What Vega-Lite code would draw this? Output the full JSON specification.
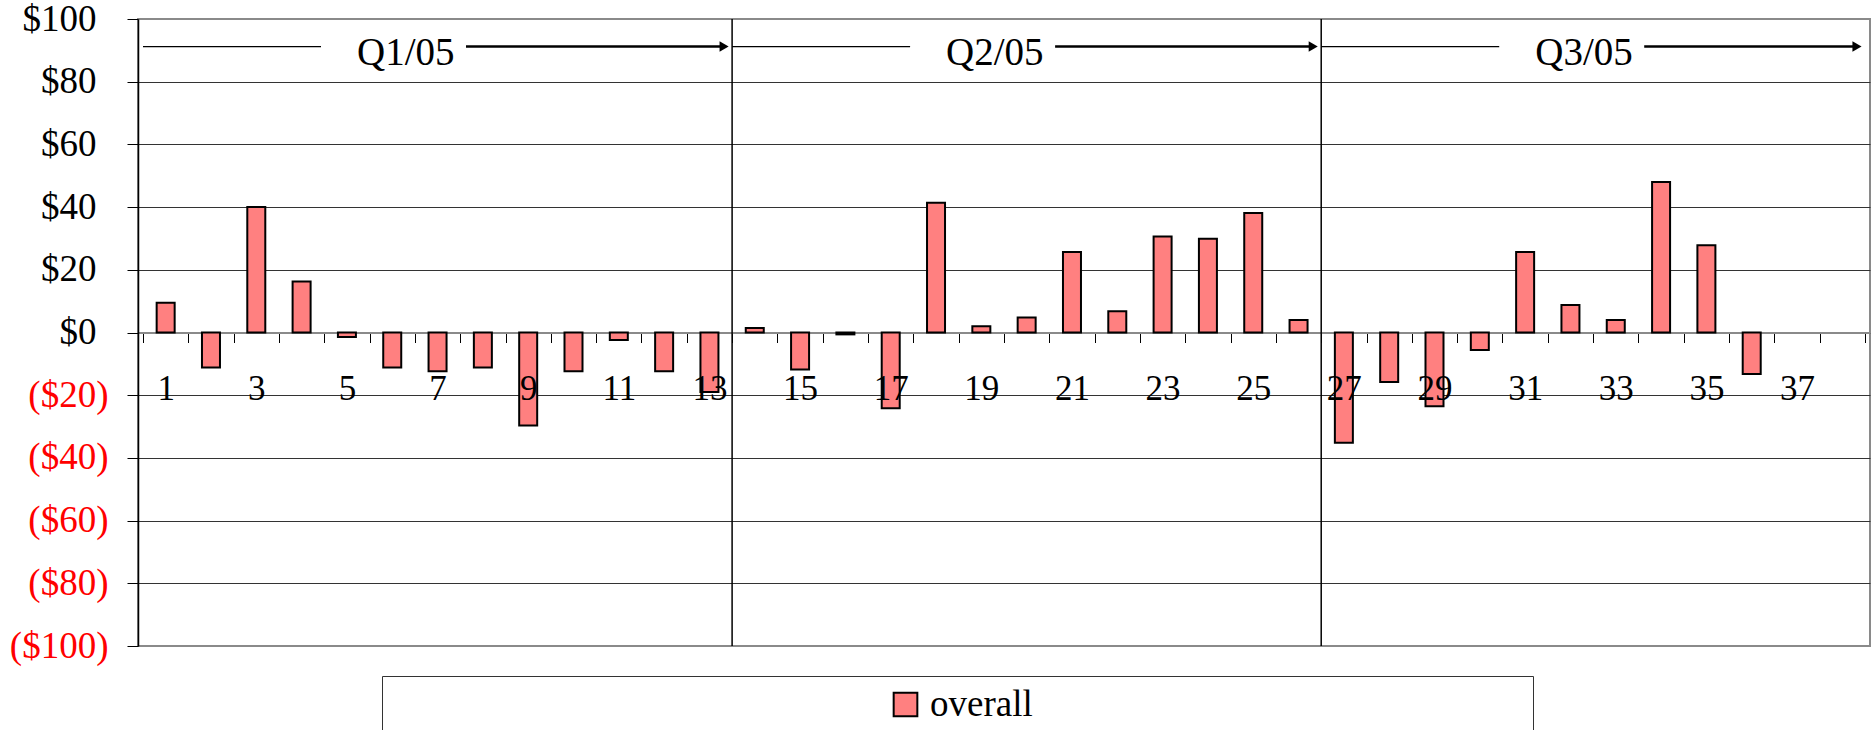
{
  "$schema": "https://vega.github.io/schema/vega-lite/v6.json",
  "width": 1732,
  "height": 627,
  "autosize": {"type": "none"},
  "padding": {"left": 138, "top": 19, "right": 2, "bottom": 84},
  "background": "white",
  "config": {
    "view": {"stroke": "#8a8a8a", "strokeWidth": 2},
    "font": "Liberation Serif",
    "axis": {"labelFont": "Liberation Serif", "labelFontSize": 35, "labelColor": "black"},
    "legend": {"labelFont": "Liberation Serif"}
  },
  "datasets": {
    "weeks": [
      {"week": 1, "value": 9.5},
      {"week": 2, "value": -11.2},
      {"week": 3, "value": 40.0},
      {"week": 4, "value": 16.3},
      {"week": 5, "value": -1.4},
      {"week": 6, "value": -11.2},
      {"week": 7, "value": -12.4},
      {"week": 8, "value": -11.2},
      {"week": 9, "value": -29.7},
      {"week": 10, "value": -12.4},
      {"week": 11, "value": -2.4},
      {"week": 12, "value": -12.4},
      {"week": 13, "value": -19.0},
      {"week": 14, "value": 1.4},
      {"week": 15, "value": -11.8},
      {"week": 16, "value": -0.6},
      {"week": 17, "value": -24.2},
      {"week": 18, "value": 41.4},
      {"week": 19, "value": 2.0},
      {"week": 20, "value": 4.8},
      {"week": 21, "value": 25.7},
      {"week": 22, "value": 6.8},
      {"week": 23, "value": 30.6},
      {"week": 24, "value": 29.9},
      {"week": 25, "value": 38.1},
      {"week": 26, "value": 4.0},
      {"week": 27, "value": -35.2},
      {"week": 28, "value": -15.8},
      {"week": 29, "value": -23.5},
      {"week": 30, "value": -5.6},
      {"week": 31, "value": 25.7},
      {"week": 32, "value": 8.8},
      {"week": 33, "value": 4.0},
      {"week": 34, "value": 48.0},
      {"week": 35, "value": 27.8},
      {"week": 36, "value": -13.2}
    ],
    "quarters": [
      {"quarter": "Q1/05", "start": 0.5, "end": 13.5},
      {"quarter": "Q2/05", "start": 13.5, "end": 26.5},
      {"quarter": "Q3/05", "start": 26.5, "end": 38.5}
    ]
  },
  "layer": [
    {
      "data": {"name": "weeks"},
      "mark": {"type": "bar", "width": 18, "stroke": "black", "strokeWidth": 2},
      "encoding": {
        "x": {
          "field": "week",
          "type": "quantitative",
          "scale": {"domain": [0.5, 38.5], "nice": false, "zero": false},
          "axis": {
            "orient": "bottom",
            "offset": -313.5,
            "values": [0.5, 1.5, 2.5, 3.5, 4.5, 5.5, 6.5, 7.5, 8.5, 9.5, 10.5, 11.5, 12.5, 13.5, 14.5, 15.5, 16.5, 17.5, 18.5, 19.5, 20.5, 21.5, 22.5, 23.5, 24.5, 25.5, 26.5, 27.5, 28.5, 29.5, 30.5, 31.5, 32.5, 33.5, 34.5, 35.5, 36.5, 37.5, 38.5],
            "labels": false,
            "grid": false,
            "title": null,
            "domainColor": "#8a8a8a",
            "domainWidth": 2,
            "tickColor": "black",
            "tickSize": 10,
            "tickWidth": 1
          }
        },
        "y": {
          "field": "value",
          "type": "quantitative",
          "scale": {"domain": [-100, 100], "nice": false},
          "axis": {
            "values": [-100, -80, -60, -40, -20, 0, 20, 40, 60, 80, 100],
            "title": null,
            "labelFontSize": 37,
            "labelExpr": "datum.value < 0 ? '($' + abs(datum.value) + ')' : '$' + datum.value",
            "labelColor": {"condition": {"test": "datum.value < 0", "value": "#FF0000"}, "value": "black"},
            "labelPadding": {"condition": {"test": "datum.value < 0", "value": 19}, "value": 31},
            "tickSize": 11,
            "tickColor": "black",
            "domainColor": "black",
            "domainWidth": 1.5,
            "grid": true,
            "gridColor": {"condition": {"test": "abs(datum.value) == 100", "value": "#8a8a8a"}, "value": "#333333"},
            "gridWidth": 1
          }
        },
        "color": {
          "datum": "overall",
          "scale": {"range": ["#FF8080"]},
          "legend": {
            "orient": "none",
            "legendX": 244,
            "legendY": 657,
            "title": null,
            "strokeColor": "#333333",
            "fillColor": "white",
            "padding": 10,
            "symbolType": "square",
            "symbolSize": 560,
            "symbolStrokeColor": "black",
            "symbolStrokeWidth": 2,
            "symbolOffset": 495,
            "labelFontSize": 37,
            "labelOffset": 6,
            "labelLimit": 0,
            "labelExpr": "pad(datum.label, 60, '\u00a0') + '\u200b'"
          }
        }
      }
    },
    {
      "data": {"name": "quarters"},
      "transform": [{"filter": "datum.end < 38"}],
      "mark": {"type": "rule", "color": "black", "strokeWidth": 1.5},
      "encoding": {
        "x": {
          "field": "end",
          "type": "quantitative",
          "axis": {
            "orient": "bottom",
            "offset": -313.5,
            "values": [1, 3, 5, 7, 9, 11, 13, 15, 17, 19, 21, 23, 25, 27, 29, 31, 33, 35, 37],
            "ticks": false,
            "tickSize": 0,
            "domain": false,
            "grid": false,
            "title": null,
            "labelBaseline": "alphabetic",
            "labelPadding": 67,
            "labelOverlap": false,
            "labelFlush": false,
            "zindex": 1
          }
        }
      }
    },
    {
      "data": {"name": "quarters"},
      "mark": {"type": "rule", "color": "black", "strokeWidth": 1.2, "x2Offset": 178},
      "encoding": {
        "x": {"field": "start", "type": "quantitative", "axis": null},
        "x2": {"field": "start"},
        "y": {"datum": 91.2}
      }
    },
    {
      "data": {"name": "quarters"},
      "mark": {"type": "rule", "color": "black", "strokeWidth": 2.5, "xOffset": 323, "x2Offset": -8},
      "encoding": {
        "x": {"field": "start", "type": "quantitative", "axis": null},
        "x2": {"field": "end"},
        "y": {"datum": 91.2}
      }
    },
    {
      "data": {"name": "quarters"},
      "mark": {"type": "point", "shape": "triangle-right", "filled": true, "color": "black", "opacity": 1, "size": 110, "xOffset": -8},
      "encoding": {
        "x": {"field": "end", "type": "quantitative", "axis": null},
        "y": {"datum": 91.2}
      }
    },
    {
      "data": {"name": "quarters"},
      "mark": {"type": "text", "align": "left", "baseline": "alphabetic", "dx": 214, "dy": 18.4, "fontSize": 39, "font": "Liberation Serif", "color": "black"},
      "encoding": {
        "x": {"field": "start", "type": "quantitative", "axis": null},
        "y": {"datum": 91.2},
        "text": {"field": "quarter"}
      }
    }
  ],
  "resolve": {"axis": {"x": "independent"}}
}
